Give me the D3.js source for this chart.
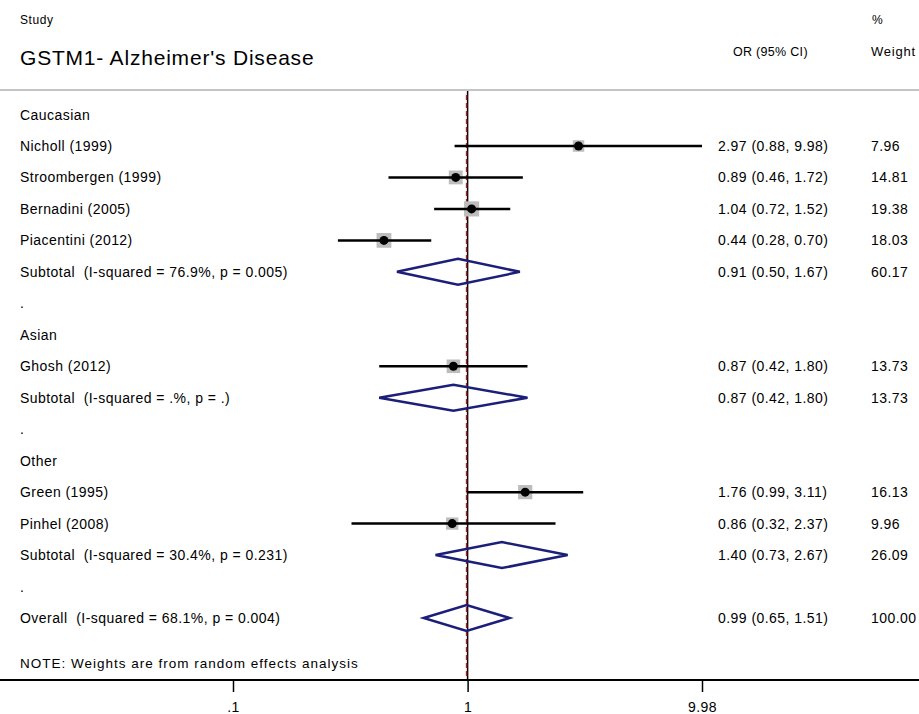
<!DOCTYPE html>
<html>
<head>
<meta charset="utf-8">
<script src="https://cdn.jsdelivr.net/npm/d3@7"></script>
<style>
  body { margin: 0; background: #fff; }
  svg { display: block; font-family: "Liberation Sans", Arial, sans-serif; }
  svg text { white-space: pre; }
</style>
</head>
<body>
<div id="chart"></div>
<script>
// rows of the forest plot, top to bottom
const rowLabels = [
    "Caucasian", "Nicholl (1999)", "Stroombergen (1999)", "Bernadini (2005)", "Piacentini (2012)",
    "Subtotal  (I-squared = 76.9%, p = 0.005)", ".",
    "Asian", "Ghosh (2012)", "Subtotal  (I-squared = .%, p = .)", ".",
    "Other", "Green (1995)", "Pinhel (2008)", "Subtotal  (I-squared = 30.4%, p = 0.231)", ".",
    "Overall  (I-squared = 68.1%, p = 0.004)"
];
const rowTypes = [
    "group", "study", "study", "study", "study", "subtotal", "gap",
    "group", "study", "subtotal", "gap",
    "group", "study", "study", "subtotal", "gap",
    "overall"
];
const estimates = [null, 2.97, 0.89, 1.04, 0.44, 0.91, null, null, 0.87, 0.87, null, null, 1.76, 0.86, 1.40, null, 0.99];
const lowerCI   = [null, 0.88, 0.46, 0.72, 0.28, 0.50, null, null, 0.42, 0.42, null, null, 0.99, 0.32, 0.73, null, 0.65];
const upperCI   = [null, 9.98, 1.72, 1.52, 0.70, 1.67, null, null, 1.80, 1.80, null, null, 3.11, 2.37, 2.67, null, 1.51];
const weights   = [null, 7.96, 14.81, 19.38, 18.03, 60.17, null, null, 13.73, 13.73, null, null, 16.13, 9.96, 26.09, null, 100.00];

const tickValues = [0.1, 1, 9.98];
const tickLabels = [".1", "1", "9.98"];

const width = 919, height = 714;

const svg = d3.select("#chart").append("svg")
    .attr("width", width)
    .attr("height", height);

const x = d3.scaleLog().domain([0.1, 9.98]).range([233, 702]);
const y = d3.scaleLinear().domain([0, rowLabels.length - 1]).range([114.5, 618]);

const rows = rowLabels.map((label, i) => ({
    label: label, type: rowTypes[i], est: estimates[i], lo: lowerCI[i], hi: upperCI[i], w: weights[i], i: i
}));

// header
svg.append("text").attr("x", 20).attr("y", 24).attr("font-size", 12).attr("letter-spacing", 0.6).text("Study");
svg.append("text").attr("x", 872).attr("y", 24).attr("font-size", 12).text("%");
svg.append("text").attr("x", 20).attr("y", 65).attr("font-size", 21).attr("letter-spacing", 0.8).text("GSTM1- Alzheimer's Disease");
svg.append("text").attr("x", 733).attr("y", 56).attr("font-size", 12.5).attr("letter-spacing", 0.3).text("OR (95% CI)");
svg.append("text").attr("x", 871).attr("y", 56).attr("font-size", 13).attr("letter-spacing", 0.8).text("Weight");

svg.append("line")
    .attr("x1", 0).attr("x2", width).attr("y1", 90).attr("y2", 90)
    .attr("stroke", "#c4c4c4").attr("stroke-width", 2);

// null line and overall effect line
svg.append("line")
    .attr("x1", x(1)).attr("x2", x(1)).attr("y1", 91).attr("y2", 680)
    .attr("stroke", "#000").attr("stroke-width", 1.5);
svg.append("line")
    .attr("x1", x(0.99)).attr("x2", x(0.99)).attr("y1", 95).attr("y2", 680)
    .attr("stroke", "#a0242a").attr("stroke-width", 1.5)
    .attr("stroke-dasharray", "5,3");

// labels
svg.append("g").attr("font-size", 14).attr("letter-spacing", 0.45)
  .selectAll("text")
  .data(rows)
  .join("text")
    .attr("x", 20)
    .attr("y", d => y(d.i) + 5)
    .text(d => d.label);

const studies = rows.filter(d => d.type === "study");

// weight boxes
svg.append("g")
  .selectAll("rect")
  .data(studies)
  .join("rect")
    .attr("x", d => x(d.est) - (5 + 2.3 * Math.sqrt(d.w)) / 2)
    .attr("y", d => y(d.i) - (5 + 2.3 * Math.sqrt(d.w)) / 2)
    .attr("width", d => 5 + 2.3 * Math.sqrt(d.w))
    .attr("height", d => 5 + 2.3 * Math.sqrt(d.w))
    .attr("fill", "#bdbdbd");

// confidence intervals
svg.append("g")
    .attr("stroke", "#000").attr("stroke-width", 2.5)
  .selectAll("line")
  .data(studies)
  .join("line")
    .attr("x1", d => x(d.lo))
    .attr("x2", d => x(d.hi))
    .attr("y1", d => y(d.i))
    .attr("y2", d => y(d.i));

// point estimates
svg.append("g")
  .selectAll("circle")
  .data(studies)
  .join("circle")
    .attr("cx", d => x(d.est))
    .attr("cy", d => y(d.i))
    .attr("r", 4.5)
    .attr("fill", "#000");

// pooled diamonds
svg.append("g")
  .selectAll("path")
  .data(rows.filter(d => d.type === "subtotal" || d.type === "overall"))
  .join("path")
    .attr("d", d => `M${x(d.lo)},${y(d.i)}L${x(d.est)},${y(d.i) - 13}L${x(d.hi)},${y(d.i)}L${x(d.est)},${y(d.i) + 13}Z`)
    .attr("fill", "none")
    .attr("stroke", "#1c1f7a")
    .attr("stroke-width", 2.5);

// OR and weight columns
const withValues = rows.filter(d => d.est !== null);
svg.append("g").attr("font-size", 14).attr("letter-spacing", 0.45)
  .selectAll("text")
  .data(withValues)
  .join("text")
    .attr("x", 718)
    .attr("y", d => y(d.i) + 5)
    .text(d => `${d.est.toFixed(2)} (${d.lo.toFixed(2)}, ${d.hi.toFixed(2)})`);
svg.append("g").attr("font-size", 14).attr("letter-spacing", 0.45)
  .selectAll("text")
  .data(withValues)
  .join("text")
    .attr("x", 871)
    .attr("y", d => y(d.i) + 5)
    .text(d => d.w.toFixed(2));

svg.append("text").attr("x", 20).attr("y", 668).attr("font-size", 13.5).attr("letter-spacing", 1)
    .text("NOTE: Weights are from random effects analysis");

// x axis
svg.append("line")
    .attr("x1", 0).attr("x2", width).attr("y1", 680).attr("y2", 680)
    .attr("stroke", "#000").attr("stroke-width", 2);

const axis = svg.append("g")
    .attr("transform", "translate(0,680)")
    .call(d3.axisBottom(x)
        .tickValues(tickValues)
        .tickFormat((d, i) => tickLabels[i])
        .tickSize(12)
        .tickPadding(10));
axis.select(".domain").remove();
axis.selectAll(".tick line").attr("stroke-width", 1.5);
axis.selectAll(".tick text")
    .attr("font-size", 14)
    .attr("letter-spacing", 0.5)
    .attr("font-family", "\"Liberation Sans\", Arial, sans-serif");
</script>
</body>
</html>
